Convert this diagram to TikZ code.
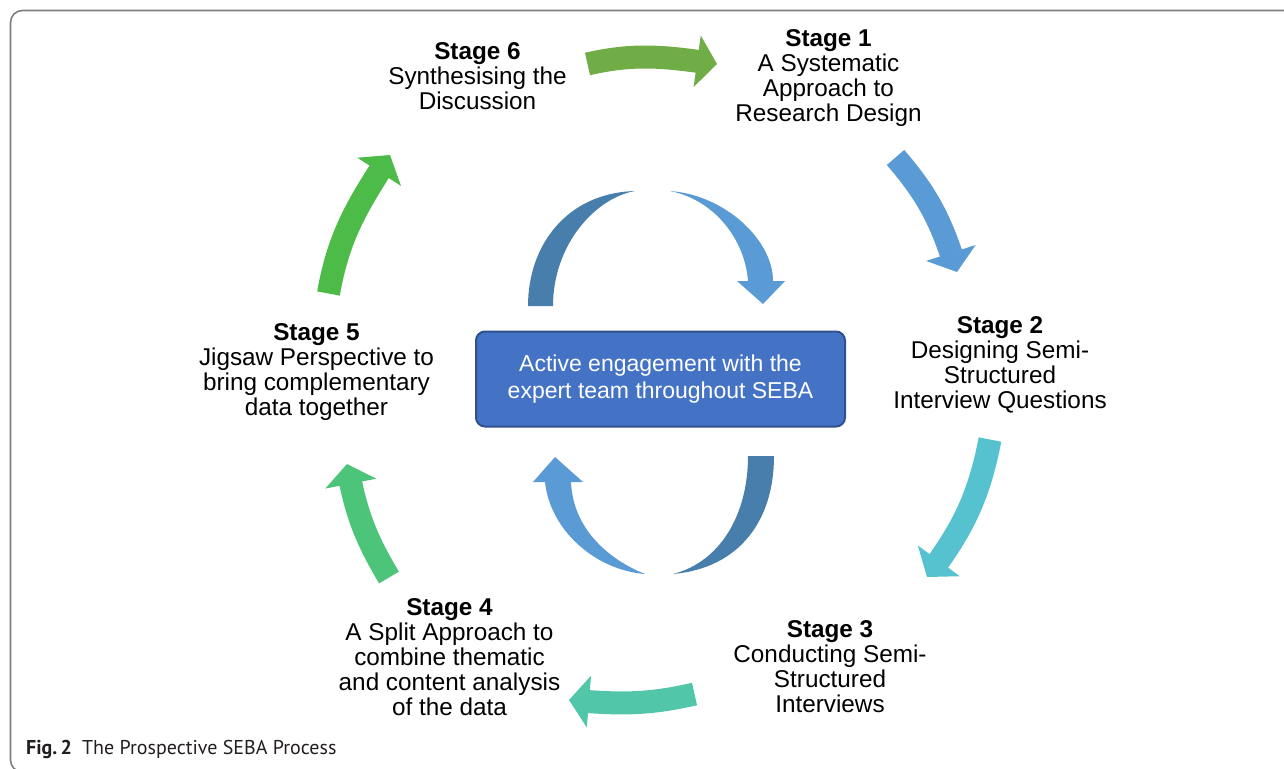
\documentclass[tikz,border=0pt]{standalone}
\usepackage{fontspec}
\setmainfont{Liberation Sans}
\newfontfamily\capfont{PT Sans}
\usetikzlibrary{arrows.meta,bending}
\definecolor{cSixOne}{HTML}{70AD47}
\definecolor{cOneTwo}{HTML}{5B9BD5}
\definecolor{cTwoThree}{HTML}{56C2CF}
\definecolor{cThreeFour}{HTML}{52C6A8}
\definecolor{cFourFive}{HTML}{4CC47A}
\definecolor{cFiveSix}{HTML}{4CBB47}
\definecolor{innerdark}{HTML}{477EAB}
\definecolor{innerlight}{HTML}{5B9BD5}
\definecolor{boxfill}{HTML}{4472C4}
\definecolor{boxedge}{HTML}{2F528F}
\definecolor{framec}{HTML}{7F7F7F}
\definecolor{captext}{HTML}{231F20}
\begin{document}
\begin{tikzpicture}[x=1pt,y=1pt,
  stagelbl/.style={align=center, anchor=north, inner sep=0pt, font=\fontsize{24.3}{25}\selectfont},
  ringarrow/.style={line width=23pt, -{Triangle[width=52pt,length=20pt,line width=0pt,flex=1]}},
  engbox/.style={draw=boxedge, fill=boxfill, line width=2pt, rounded corners=9pt,
    minimum width=369pt, minimum height=95pt, inner sep=0pt, text=white, align=center,
    font=\fontsize{23}{27}\selectfont},
  innershape/.style={draw=none}]
\useasboundingbox (0,0) rectangle (1284,-768);
\clip (0,0) rectangle (1284,-768);
\fill[white] (0,0) rectangle (1284,-768);
% frame
\draw[framec, line width=1.6pt, rounded corners=12pt] (1300,-10.5) -- (10.5,-10.5) -- (10.5,-772) -- (1300,-772);

% stage labels
\node[stagelbl] (s6) at (477.5,-42) {\textbf{Stage 6}\\Synthesising the\\Discussion};
\node[stagelbl] (s1) at (828.5,-29) {\textbf{Stage 1}\\A Systematic\\Approach to\\Research Design};
\node[stagelbl] (s2) at (1000,-316.5) {\textbf{Stage 2}\\Designing Semi-\\Structured\\Interview Questions};
\node[stagelbl] (s3) at (830,-620.3) {\textbf{Stage 3}\\Conducting Semi-\\Structured\\Interviews};
\node[stagelbl] (s4) at (449.5,-598.3) {\textbf{Stage 4}\\A Split Approach to\\combine thematic\\and content analysis\\of the data};
\node[stagelbl] (s5) at (316.5,-323.3) {\textbf{Stage 5}\\Jigsaw Perspective to\\bring complementary\\data together};

% centre box
\node[engbox] (eng) at (660.5,-379) {Active engagement with the\\expert team throughout SEBA};

% ring arrow end points
\coordinate (a61s) at (587.5,-64);
\coordinate (a61e) at (717,-64);
\coordinate (a12s) at (895.5,-157.5);
\coordinate (a12e) at (957,-272);
\coordinate (a23s) at (990,-439.5);
\coordinate (a23e) at (927,-577);
\coordinate (a34s) at (694.5,-694);
\coordinate (a34e) at (569,-700);
\coordinate (a45s) at (389,-577.5);
\coordinate (a45e) at (347,-464);
\coordinate (a56s) at (328.5,-293.5);
\coordinate (a56e) at (390,-155);

\draw[ringarrow, draw=cSixOne] (a61s) to[out=13,in=172] (a61e);
\draw[ringarrow, draw=cOneTwo] (a12s) to[out=-49,in=107] (a12e);
\draw[ringarrow, draw=cTwoThree] (a23s) to[out=-101,in=53] (a23e);
\draw[ringarrow, draw=cThreeFour] (a34s) to[out=193,in=-5] (a34e);
\draw[ringarrow, draw=cFourFive] (a45s) to[out=121,in=-80] (a45e);
\draw[ringarrow, draw=cFiveSix] (a56s) to[out=80,in=237] (a56e);

% inner arrows
\fill[innerdark] (528,-306) .. controls (528,-245) and (567,-193) .. (635,-191)
  .. controls (595,-198) and (553,-245) .. (553,-306) -- cycle;
\fill[innerlight] (670,-191) .. controls (725,-195) and (773,-240) .. (773,-281)
  -- (785,-281) -- (763,-304) -- (737,-281) -- (748,-281)
  .. controls (745,-240) and (715,-200) .. (670,-191) -- cycle;
\fill[innerdark] (774,-456) .. controls (774,-520) and (740,-568) .. (673,-574)
  .. controls (720,-562) and (748,-515) .. (748,-456) -- cycle;
\fill[innerlight] (545,-482) .. controls (550,-530) and (595,-570) .. (645,-574)
  .. controls (610,-560) and (573,-530) .. (571,-482)
  -- (583,-482) -- (555,-457) -- (533,-482) -- cycle;

% caption
\node[anchor=base west, inner sep=0pt, text=captext, font=\capfont\fontsize{20}{23}\selectfont] (cap) at (26,-754) {\textbf{Fig.\,2}\hspace{10pt}The Prospective SEBA Process};
\end{tikzpicture}
\end{document}
